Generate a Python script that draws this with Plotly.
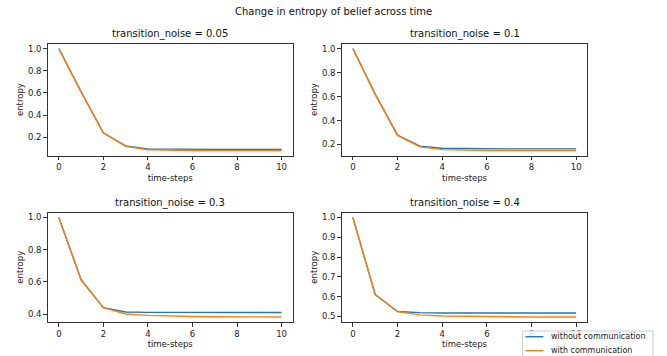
import plotly.graph_objects as go
from plotly.subplots import make_subplots

steps = list(range(11))
noise_titles = ["transition_noise = 0.05", "transition_noise = 0.1",
                "transition_noise = 0.3", "transition_noise = 0.4"]
legend_labels = ["without communication", "with communication"]

without_005 = [1.0, 0.61, 0.24, 0.122, 0.095, 0.092, 0.091, 0.091, 0.091, 0.091, 0.091]
with_005 = [1.0, 0.61, 0.238, 0.118, 0.088, 0.083, 0.081, 0.080, 0.080, 0.080, 0.080]

without_01 = [1.0, 0.62, 0.278, 0.186, 0.168, 0.165, 0.164, 0.163, 0.163, 0.163, 0.163]
with_01 = [1.0, 0.62, 0.276, 0.180, 0.157, 0.152, 0.150, 0.149, 0.149, 0.149, 0.149]

without_03 = [1.0, 0.613, 0.44, 0.413, 0.411, 0.410, 0.410, 0.410, 0.410, 0.410, 0.410]
with_03 = [1.0, 0.613, 0.44, 0.401, 0.392, 0.387, 0.385, 0.384, 0.383, 0.382, 0.382]

without_04 = [1.0, 0.611, 0.525, 0.519, 0.517, 0.517, 0.517, 0.517, 0.517, 0.517, 0.517]
with_04 = [1.0, 0.611, 0.524, 0.508, 0.502, 0.500, 0.499, 0.498, 0.497, 0.497, 0.497]

series = [(without_005, with_005), (without_01, with_01),
          (without_03, with_03), (without_04, with_04)]
ydticks = [0.2, 0.2, 0.2, 0.1]

BLUE = "#1f77b4"
ORANGE = "#ff7f0e"
COLORS = [BLUE, ORANGE]
FONT = "DejaVu Sans"
TXT = "#222222"
W, H = 667, 356

fig = make_subplots(rows=2, cols=2)

# pixel boxes of axes: (x0, x1, ytop, ybottom)
boxes = [(47.7, 292.7, 43.5, 155.7), (341.7, 587.3, 43.5, 155.7),
         (47.7, 292.7, 212.5, 322.0), (341.7, 587.3, 212.5, 322.0)]

for i, (wo, wi) in enumerate(series):
    r, c = i // 2 + 1, i % 2 + 1
    for k, ys in enumerate((wo, wi)):
        fig.add_trace(go.Scatter(x=steps, y=ys, mode="lines",
                                 line=dict(color=COLORS[k], width=1.4),
                                 name=legend_labels[k], showlegend=False),
                      row=r, col=c)

axis_common = dict(showgrid=False, zeroline=False, showline=True, mirror=True,
                   automargin=False,
                   linecolor="#333333", linewidth=1, ticks="outside", ticklen=3.5,
                   tickcolor="#333333", tickwidth=1,
                   tickfont=dict(family=FONT, size=8.5, color=TXT))

for i in range(4):
    x0, x1, yt, yb = boxes[i]
    xa = "xaxis" if i == 0 else f"xaxis{i+1}"
    ya = "yaxis" if i == 0 else f"yaxis{i+1}"
    wo, wi = series[i]
    lo = min(min(wo), min(wi))
    hi = max(max(wo), max(wi))
    pad = (hi - lo) * 0.05
    fig.layout[xa].update(domain=[x0 / W, x1 / W], range=[-0.5, 10.5],
                          tickmode="array", tickvals=[0, 2, 4, 6, 8, 10],
                          title=dict(text="time-steps", standoff=3,
                                     font=dict(family=FONT, size=8.5, color=TXT)),
                          **axis_common)
    fig.layout[ya].update(domain=[1 - yb / H, 1 - yt / H], range=[lo - pad, hi + pad],
                          dtick=ydticks[i], tick0=0, tickformat=".1f",
                          title=dict(text="entropy", standoff=2,
                                     font=dict(family=FONT, size=8.5, color=TXT)),
                          **axis_common)
    fig.add_annotation(text=noise_titles[i], x=(x0 + x1) / 2 / W, y=1 - (yt - 1.2) / H,
                       xref="paper", yref="paper", xanchor="center", yanchor="bottom",
                       showarrow=False, font=dict(family=FONT, size=10, color="#111111"))

fig.add_annotation(text="Change in entropy of belief across time", x=0.5, y=1 - 3.5 / H,
                   xref="paper", yref="paper", xanchor="center", yanchor="top",
                   showarrow=False, font=dict(family=FONT, size=10, color="#111111"))

# legend box (matplotlib-style, lower right, partly cut by the page edge)
lx0, lx1, ly0, ly1 = 522.7, 653.0, 331.0, 362.0
fig.add_shape(type="rect", xref="paper", yref="paper",
              x0=lx0 / W, x1=lx1 / W, y0=1 - ly1 / H, y1=1 - ly0 / H,
              line=dict(color="#cccccc", width=1), fillcolor="rgba(255,255,255,0.85)",
              layer="above")
row_y = [336.7, 350.7]
for k in range(2):
    fig.add_shape(type="line", xref="paper", yref="paper",
                  x0=525.5 / W, x1=543.5 / W, y0=1 - row_y[k] / H, y1=1 - row_y[k] / H,
                  line=dict(color=COLORS[k], width=1.4), layer="above")
    fig.add_annotation(text=legend_labels[k], x=549 / W, y=1 - row_y[k] / H,
                       xref="paper", yref="paper", xanchor="left", yanchor="middle",
                       showarrow=False, font=dict(family=FONT, size=8.0, color=TXT))

fig.update_layout(
    template="none",
    width=W, height=H, margin=dict(l=0, r=0, t=0, b=0),
    paper_bgcolor="white", plot_bgcolor="white",
    font=dict(family=FONT, size=8.5, color=TXT),
    showlegend=False,
)

fig.write_html("out.html")
